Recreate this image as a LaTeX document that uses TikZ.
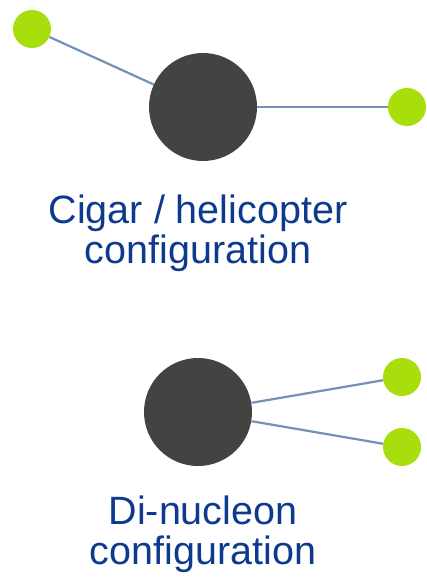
\documentclass[tikz,border=0pt]{standalone}
\usepackage{fontspec}
\setmainfont{Liberation Sans}
\definecolor{nucleus}{HTML}{434343}
\definecolor{lime}{HTML}{A8DE0C}
\definecolor{linkc}{HTML}{7492B8}
\definecolor{labelc}{HTML}{0E3A8E}
\tikzset{
  core/.style={circle, fill=nucleus, minimum size=108pt, inner sep=0pt},
  nucleon/.style={circle, fill=lime, minimum size=38pt, inner sep=0pt},
  link/.style={draw=linkc, line width=2.2pt},
  caption/.style={text=labelc, font=\fontsize{39.5}{40}\selectfont, align=center, inner sep=0pt, anchor=base}
}
\begin{document}
\begin{tikzpicture}[x=1pt, y=-1pt]
\useasboundingbox[fill=white] (0,0) rectangle (427,578);
% Cigar / helicopter
\node[core] (c1) at (203,107) {};
\node[nucleon] (n1) at (32,29) {};
\node[nucleon] (n2) at (407,107) {};
\draw[link] (n1) -- (c1);
\draw[link] (c1) -- (n2);
\node[caption] (t1) at (198,263) {Cigar / helicopter\\configuration};
% Di-nucleon
\node[core] (c2) at (198,412) {};
\node[nucleon] (n3) at (402,377) {};
\node[nucleon] (n4) at (402,447) {};
\draw[link] (c2) -- (n3);
\draw[link] (c2) -- (n4);
\node[caption] (t2) at (203,564) {Di-nucleon\\configuration};
\end{tikzpicture}
\end{document}
